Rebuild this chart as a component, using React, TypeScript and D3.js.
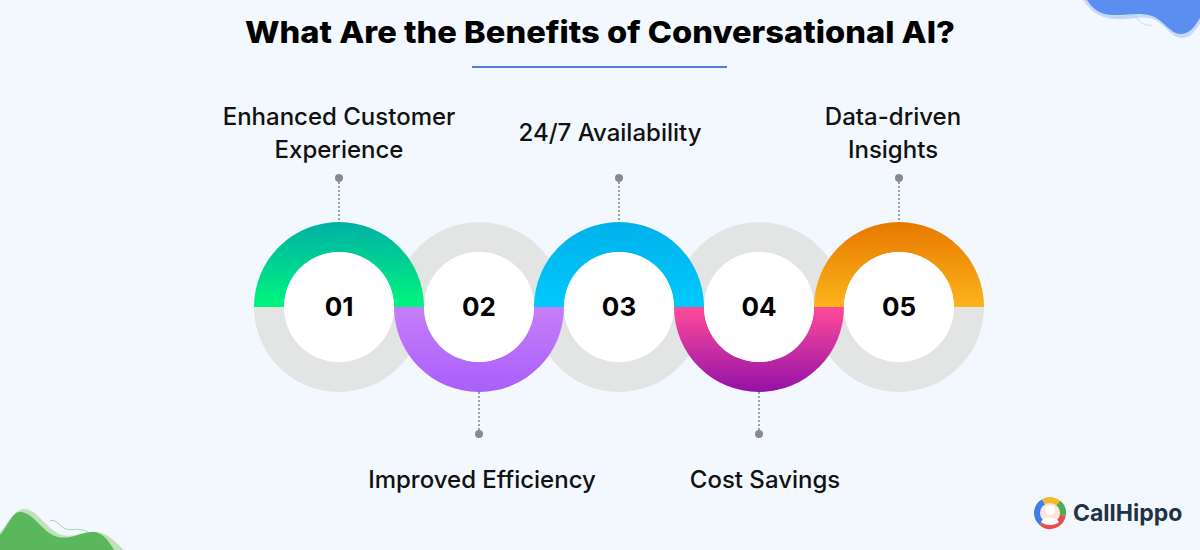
import React from "react";
import * as d3 from "d3";

const numbers = ["01", "02", "03", "04", "05"];
const labels = [
  ["Enhanced Customer", "Experience"],
  ["Improved Efficiency"],
  ["24/7 Availability"],
  ["Cost Savings"],
  ["Data-driven", "Insights"],
];
const sides = ["top", "bottom", "top", "bottom", "top"];
const gradTop = ["#00b0a6", "#c67efa", "#00b1ea", "#ff4b99", "#e87800"];
const gradBottom = ["#00f57c", "#a95ffb", "#00c9fb", "#9311a8", "#fbb41b"];
const title = "What Are the Benefits of Conversational AI?";

const W = 1200, H = 550;
const CY = 307;
const R_OUT = 85, R_IN = 55;
const LABEL_DX = [0, 3, -9, 6, -6];

export default function App() {
  const x = d3.scaleLinear().domain([0, numbers.length - 1]).range([339, 899]);
  const arcTop = d3.arc()({ innerRadius: R_IN, outerRadius: R_OUT, startAngle: -Math.PI / 2, endAngle: Math.PI / 2 } as any) as string;
  const arcBottom = d3.arc()({ innerRadius: R_IN, outerRadius: R_OUT, startAngle: Math.PI / 2, endAngle: (3 * Math.PI) / 2 } as any) as string;
  const arcFull = d3.arc()({ innerRadius: R_IN, outerRadius: R_OUT, startAngle: 0, endAngle: 2 * Math.PI } as any) as string;
  const font = "Inter, 'Open Sans', sans-serif";

  return (
    <svg width={W} height={H} style={{ position: "absolute", left: 0, top: 0 }} fontFamily={font}>
      <defs>
        {numbers.map((_, i) => {
          const top = sides[i] === "top";
          return (
            <linearGradient key={i} id={`g${i}`} gradientUnits="userSpaceOnUse" x1={0} x2={0}
              y1={top ? -R_OUT : 0} y2={top ? 0 : R_OUT}>
              <stop offset="0" stopColor={gradTop[i]} />
              <stop offset="1" stopColor={gradBottom[i]} />
            </linearGradient>
          );
        })}
      </defs>
      <rect width={W} height={H} fill="#f3f8fe" />

      {/* top-right blob */}
      <path d="M1083,0 C1090,10 1098,18 1115,19 C1130,20 1140,16 1150,18 C1165,22 1170,38 1182,38 C1192,38 1196,28 1200,24 L1200,0 Z" fill="#c6d9f8" />
      <path d="M1087,0 C1093,9 1100,15 1114,15 C1130,15 1140,12 1152,16 C1165,21 1170,34 1181,34 C1191,34 1196,24 1200,18 L1200,0 Z" fill="#5a8eef" />
      <path d="M1113,17 C1122,19 1128,13 1135,17 C1140,21 1144,27 1152,25" fill="none" stroke="#b7cef6" strokeWidth={0.8} />

      {/* bottom-left blob */}
      <path d="M0,532 C8,524 14,509 24,509 C38,509 46,530 62,535 C75,538 85,530 98,532 C110,534 118,545 124,550 L0,550 Z" fill="#bfe2bb" />
      <path d="M0,535 C8,526 12,512 20,512 C34,512 42,533 58,537 C72,540 82,531 94,532 C104,533 110,543 114,550 L0,550 Z" fill="#5bb75b" />
      <path d="M50,521 C56,518 60,527 66,529 C72,531 78,527 88,532" fill="none" stroke="#8fd08d" strokeWidth={0.8} />

      {/* title */}
      <text x={600} y={43} textAnchor="middle" fontSize={30} fontWeight={800} fill="#000" textLength={710} lengthAdjust="spacingAndGlyphs">{title}</text>
      <line x1={472} x2={727} y1={67} y2={67} stroke="#4d7fe0" strokeWidth={2} />

      {/* connectors */}
      {numbers.map((_, i) => {
        const top = sides[i] === "top";
        const cx = x(i);
        const dotY = top ? CY - 129 : CY + 127;
        const endY = top ? CY - R_OUT : CY + R_OUT;
        return (
          <g key={`c${i}`}>
            <line x1={cx} x2={cx} y1={dotY} y2={endY} stroke="#8a8a8a" strokeWidth={1.6} strokeDasharray="2,2" />
            <circle cx={cx} cy={dotY} r={4} fill="#8a8a8a" />
          </g>
        );
      })}

      {/* gray rings */}
      {numbers.map((_, i) => (
        <path key={`gr${i}`} d={arcFull} transform={`translate(${x(i)},${CY})`} fill="#e3e5e4" />
      ))}
      {/* coloured halves */}
      {numbers.map((_, i) => (
        <path key={`cr${i}`} d={sides[i] === "top" ? arcTop : arcBottom}
          transform={`translate(${x(i)},${CY})`} fill={`url(#g${i})`} />
      ))}
      {/* white centers and numbers */}
      {numbers.map((n, i) => (
        <g key={`w${i}`} transform={`translate(${x(i)},${CY})`}>
          <circle r={R_IN} fill="#ffffff" />
          <text y={9} textAnchor="middle" fontSize={26} fontWeight={700} fill="#000">{n}</text>
        </g>
      ))}

      {/* labels */}
      {labels.map((lines, i) => {
        const top = sides[i] === "top";
        const cx = x(i) + LABEL_DX[i];
        const startY = top ? (lines.length === 2 ? 125 : 141) : 488;
        return (
          <text key={`l${i}`} x={cx} textAnchor="middle" fontSize={24} fontWeight={500} fill="#111">
            {lines.map((ln, j) => (
              <tspan key={j} x={cx} y={startY + j * 33}>{ln}</tspan>
            ))}
          </text>
        );
      })}

      {/* logo */}
      <g transform="translate(1050,513)">
        {[
          ["#e84c4f", 100, 220],
          ["#3f7ee8", 220, 330],
          ["#f5b72b", 330, 400],
          ["#4caf50", 40, 100],
        ].map(([c, a0, a1], k) => (
          <path key={k} d={d3.arc()({ innerRadius: 0, outerRadius: 16, startAngle: ((a0 as number) * Math.PI) / 180, endAngle: ((a1 as number) * Math.PI) / 180 } as any) as string} fill={c as string} />
        ))}
        <circle r={10} fill="#fde6d6" />
        <circle cy={-3} r={5} fill="#ffffff" />
        <path d="M-9,9 C-6,3 6,3 9,9 C5,13 -5,13 -9,9 Z" fill="#ffffff" />
      </g>
      <text x={1073} y={521} fontSize={23} fontWeight={700} fill="#1e3444">CallHippo</text>
    </svg>
  );
}
